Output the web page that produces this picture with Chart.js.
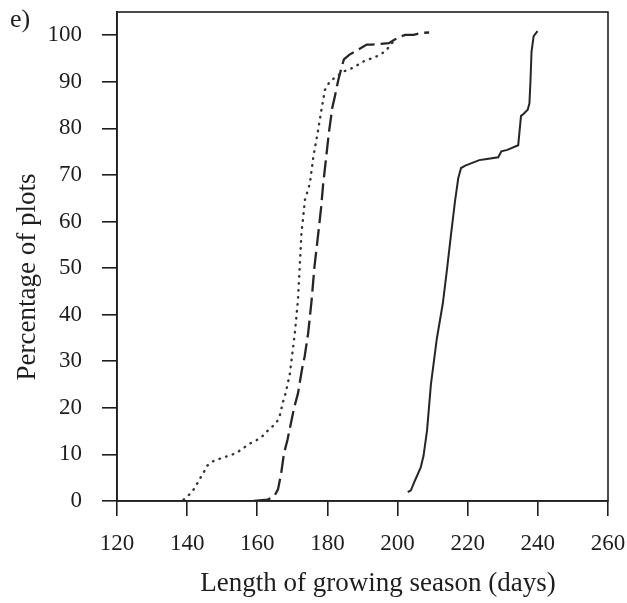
<!DOCTYPE html>
<html>
<head>
<meta charset="utf-8">
<script src="https://cdn.jsdelivr.net/npm/chart.js@4"></script>
<style>
  html, body { margin: 0; padding: 0; background: #fff; }
  #wrap { width: 627px; height: 603px; }
</style>
</head>
<body>
<div id="wrap"><canvas id="grafico" width="627" height="603"></canvas></div>
<script>
// Dados (dias, % de parcelas)
const xTicks = [120, 140, 160, 180, 200, 220, 240, 260];
const yTicks = [0, 10, 20, 30, 40, 50, 60, 70, 80, 90, 100];

const dottedX = [139, 140.8, 142.3, 143.4, 144.7, 145.6, 147.7, 149.8, 151.8, 153.7, 155.6, 157.5, 159.7, 161.6, 163.5, 165.4, 166.4, 167.3, 168.2, 169.3, 170.7, 171.6, 172.1, 172.6, 173.6, 175.0, 176.0, 177.2, 178.3, 179.3, 180.7, 184.5, 186.9, 188.8, 190.8, 192.9, 195.0, 196.7, 197.9, 199.5];
const dottedY = [0.3, 1.5, 2.9, 4.5, 6.1, 7.5, 8.7, 9.2, 9.7, 10.2, 11.1, 12.2, 13.0, 14.0, 15.5, 16.7, 18.3, 21.2, 23.5, 27.4, 36.0, 43.2, 50.3, 57.5, 64.7, 68.2, 74.0, 79.0, 84.0, 88.3, 90.1, 92.2, 92.9, 93.7, 94.6, 95.1, 95.8, 96.7, 97.9, 99.2];

const dashedX = [159, 163, 164.9, 165.9, 166.8, 167.6, 168.6, 170.5, 171.6, 172.8, 173.5, 174.5, 175.5, 176.3, 177.4, 178.2, 178.8, 179.6, 180.4, 181.4, 182.1, 183.1, 184.1, 184.7, 186.2, 188.5, 191.2, 192.6, 197.5, 198.4, 200.3, 202.2, 204.6, 206.5, 209];
const dashedY = [0, 0.3, 1.1, 2.5, 5.9, 10.2, 13.1, 20, 23.1, 28.5, 31, 36, 43.2, 50.3, 57.5, 63, 68.2, 73.5, 79, 84.5, 86.8, 90.4, 93.3, 94.8, 95.8, 96.8, 98, 98, 98.3, 98.7, 99.6, 100.1, 100.1, 100.5, 100.6];

const solidX = [202.9, 203.8, 204.9, 206.6, 207.4, 208.4, 209.5, 211.2, 212.9, 214.1, 215.2, 216.4, 217.3, 218.1, 219.3, 223.3, 225.0, 228.7, 229.6, 231.3, 234.4, 235.2, 235.9, 237.1, 237.6, 237.9, 238.2, 238.8, 239.9];
const solidY = [1.9, 2.3, 4.3, 7.2, 9.7, 15.1, 25.0, 34.9, 42.4, 49.8, 57.0, 64.5, 69.3, 71.5, 72.0, 73.2, 73.4, 73.8, 75.1, 75.4, 76.4, 82.7, 83.1, 84.0, 85.4, 90.3, 96.5, 99.8, 100.9];

const xTitle = 'Length of growing season (days)';
const yTitle = 'Percentage of plots';
const panel = 'e)';

const pts = (xs, ys) => xs.map((x, i) => ({ x: x, y: ys[i] }));
const ink = '#1e1e1e';
const serif = '"Liberation Serif", "DejaVu Serif", serif';

// moldura e textos
const moldura = {
    id: 'moldura',
    afterDraw(chart) {
        const { ctx, chartArea: a } = chart;
        ctx.save();
        ctx.strokeStyle = ink;
        ctx.lineWidth = 1.6;
        ctx.strokeRect(a.left, a.top, a.right - a.left, a.bottom - a.top);
        ctx.fillStyle = ink;
        ctx.textAlign = 'center';
        ctx.textBaseline = 'middle';
        ctx.font = '27px ' + serif;
        ctx.fillText(xTitle, 378, 584);
        ctx.font = '26px ' + serif;
        ctx.fillText(panel, 20, 20);
        ctx.font = '27px ' + serif;
        ctx.translate(28, 277);
        ctx.rotate(-Math.PI / 2);
        ctx.fillText(yTitle, 0, 0);
        ctx.restore();
    }
};

new Chart(document.getElementById('grafico'), {
    type: 'line',
    data: {
        datasets: [
            { data: pts(dottedX, dottedY), borderColor: '#333', borderWidth: 2.4, borderDash: [0.5, 6.5], borderCapStyle: 'round' },
            { data: pts(dashedX, dashedY), borderColor: '#262626', borderWidth: 2.3, borderDash: [17, 6] },
            { data: pts(solidX, solidY), borderColor: '#262626', borderWidth: 2 }
        ]
    },
    options: {
        responsive: false,
        animation: false,
        events: [],
        elements: { point: { radius: 0 }, line: { tension: 0 } },
        layout: { padding: { top: 12, right: 19, left: 0, bottom: 0 } },
        plugins: { legend: { display: false }, tooltip: { enabled: false } },
        scales: {
            x: {
                type: 'linear', min: 120, max: 260,
                afterBuildTicks: s => { s.ticks = xTicks.map(v => ({ value: v })); },
                afterFit: s => { s.height = 102; s.paddingLeft = 0; s.paddingRight = 0; },
                grid: { drawOnChartArea: false, tickLength: 15, color: ink, lineWidth: 1.6 },
                border: { color: ink, width: 1.6 },
                ticks: { color: ink, font: { family: serif, size: 23 }, padding: 14, maxRotation: 0 }
            },
            y: {
                type: 'linear', min: 0, max: 105,
                afterBuildTicks: s => { s.ticks = yTicks.map(v => ({ value: v })); },
                afterFit: s => { s.width = 117; s.paddingTop = 0; s.paddingBottom = 0; },
                grid: { drawOnChartArea: false, tickLength: 15, color: ink, lineWidth: 1.6 },
                border: { color: ink, width: 1.6 },
                ticks: { color: ink, font: { family: serif, size: 23 }, padding: 20 }
            }
        }
    },
    plugins: [moldura]
});
</script>
</body>
</html>
